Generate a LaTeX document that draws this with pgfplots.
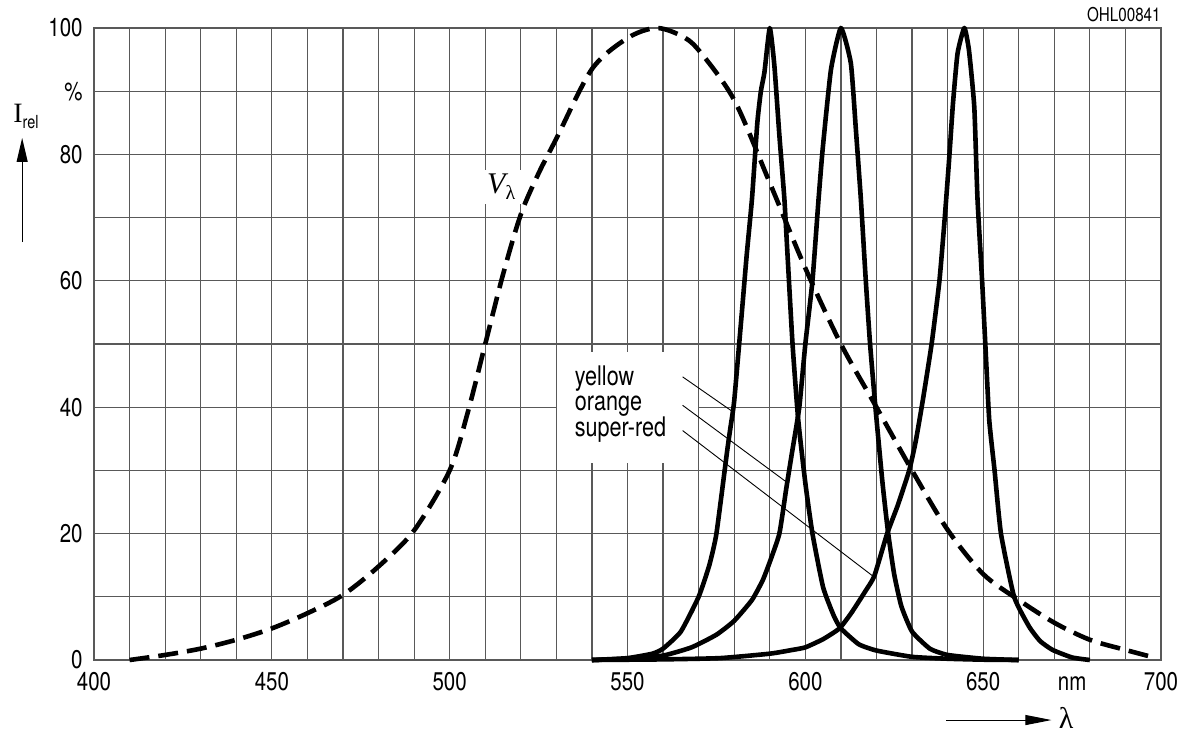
\documentclass[border=0pt]{standalone}
\usepackage{fontspec}
\setmainfont{TeX Gyre Heros}[FakeStretch=0.8]
\newfontfamily\serif{Liberation Serif}
\usepackage{pgfplots}
\pgfplotsset{compat=1.18}
\usetikzlibrary{arrows.meta}

\begin{document}
\begin{tikzpicture}
\begin{axis}[
    scale only axis,
    width=533.5pt, height=316pt,
    xmin=400, xmax=700, ymin=0, ymax=100,
    xtick={400,450,500,550,600,650,675,700},
    xticklabels={400,450,500,550,600,650,nm,700},
    ytick={0,20,40,60,80,90,100},
    yticklabels={0,20,40,60,80,\%,100},
    minor xtick={410,420,...,690},
    minor ytick={10,30,50,70},
    xmajorgrids=false, xminorgrids, ymajorgrids, yminorgrids,
    major tick length=0pt, minor tick length=0pt,
    grid style={black!65, line width=0.6pt},
    minor grid style={black!65, line width=0.6pt},
    axis line style={black!65, line width=0.6pt},
    tick label style={font=\fontsize{12.8}{15}\selectfont},
    xticklabel style={anchor=base, yshift=-15pt, inner sep=0pt},
    yticklabel style={anchor=east, xshift=-5.5pt, inner sep=0pt},
    /pgf/number format/assume math mode=true,
    clip=false,
]
\coordinate (sw) at (rel axis cs:0,0);
\coordinate (ne) at (rel axis cs:1,1);

% label box and texts
\fill[white] (axis cs:530.1,31.1) rectangle (axis cs:569.9,48.7);
\node[anchor=base west, inner sep=0pt, font=\fontsize{13.5}{16}\selectfont] at (axis cs:535.1,43.5) {yellow};
\node[anchor=base west, inner sep=0pt, font=\fontsize{13.5}{16}\selectfont] at (axis cs:535.1,39.4) {orange};
\node[anchor=base west, inner sep=0pt, font=\fontsize{13.5}{16}\selectfont] at (axis cs:535.1,35.3) {super-red};
\draw[line width=0.45pt] (axis cs:565.5,44.8) -- (axis cs:579.3,39.4);
\draw[line width=0.45pt] (axis cs:565.5,40.3) -- (axis cs:594.6,28.2);
\draw[line width=0.45pt] (axis cs:565.5,36.3) -- (axis cs:619.4,13.1);

\node[fill=white, inner xsep=3.5pt, inner ysep=2pt] at (axis cs:514.5,74.9)
    {\fontsize{15}{18}\serif\itshape V\raisebox{-0.45ex}{\fontsize{10}{12}\selectfont\upshape λ}};

\node[anchor=south east, inner sep=0pt, yshift=3pt, font=\fontsize{9.5}{12}\selectfont] at (rel axis cs:1,1) {OHL00841};

% axis descriptions
\node[anchor=base west, inner sep=0pt] at (axis cs:377.2,85.1)
    {{\fontsize{14}{16}\serif I}\raisebox{-3pt}{\fontsize{9}{10}\selectfont rel}};
\draw[line width=0.5pt, -{Triangle[length=12pt,width=5.5pt]}] (axis cs:379.8,66.1) -- (axis cs:379.8,82.6);
\draw[line width=0.5pt, -{Triangle[length=13pt,width=5pt]}] (axis cs:639.6,-9.5) -- (axis cs:669.2,-9.5);
\node[anchor=west, inner sep=0pt, font=\fontsize{15}{18}\serif] at (axis cs:671.2,-9.2) {λ};

% V_lambda
\addplot[black, line width=2.3pt, line cap=butt, dash pattern=on 10pt off 4.5pt, smooth, tension=0.5] coordinates {
(410,0) (420,0.8) (430,1.8) (440,3.2) (450,5) (460,7.4) (470,10.3) (480,14.8)
(490,20.5) (500,30) (505,39) (510,50) (515,61) (520,70.5) (525,77) (530,82.5)
(540,93.5) (550,98.4) (558,100) (565,98.8) (570,96.5) (580,88.6) (590,75.5)
(600,62) (610,50) (620,40) (630,30) (640,20.6) (650,13.6) (660,9.5) (670,5.9)
(680,3.2) (690,1.6) (698,0.4)
};

% yellow
\addplot[black, line width=2.3pt, line join=round, smooth, tension=0.3] coordinates {
(540,0) (550,0.3) (557,1) (560,1.8) (565,4.5) (570,10) (573,15) (575,20) (578,33)
(579,37) (580,41) (582,54) (583.5,64) (585,73) (586.5,85) (587.5,90) (588.5,93)
(590,100) (591.3,94) (592.7,83) (594.1,73) (595,64) (596.4,50) (598,38) (600,28)
(602,20) (605,11.5) (608,7) (610,5) (615,2.5) (620,1.5) (630,0.5) (640,0.2)
(650,0.05) (660,0)
};

% orange
\addplot[black, line width=2.3pt, line join=round, smooth, tension=0.3] coordinates {
(540,0) (550,0.2) (560,0.7) (568,2) (575,4) (580,6.2) (585,9.5) (588,12.6)
(590,15.5) (592.7,20) (594.6,27) (596.3,33) (598.3,40) (600,50) (602,60)
(603.7,72.8) (604.9,81) (607.2,93.4) (610,100) (612.8,94.4) (614.2,84)
(615.6,73) (617,60) (618.2,50) (619.7,40) (621.7,28) (623.3,20) (625,13.5)
(627,8.5) (630,4.5) (635,1.8) (640,0.8) (650,0.2) (660,0)
};

% super-red
\addplot[black, line width=2.3pt, line join=round, smooth, tension=0.3] coordinates {
(540,0) (560,0.1) (576,0.3) (590,1) (596.4,1.6) (600,2) (605,3.3) (609.6,5)
(613,7.5) (617,11) (619.4,13.3) (623,20) (626,24.5) (629.2,30) (631,34.5)
(633,41) (635.5,50) (637.7,60) (639.2,70) (640.4,79) (641.5,88) (642.8,96)
(644.7,100) (646,96.5) (647.5,87.5) (648.4,73) (649.7,60) (650.6,50) (651.7,38)
(653.2,30) (655,20) (658.7,10) (662.9,5.3) (666,3) (669.5,1.6) (675,0.4) (680,0)
};
\end{axis}
\pgfresetboundingbox
\path[use as bounding box] ([shift={(-47pt,-36.5pt)}]sw) rectangle ([shift={(12pt,14pt)}]ne);
\end{tikzpicture}
\end{document}
